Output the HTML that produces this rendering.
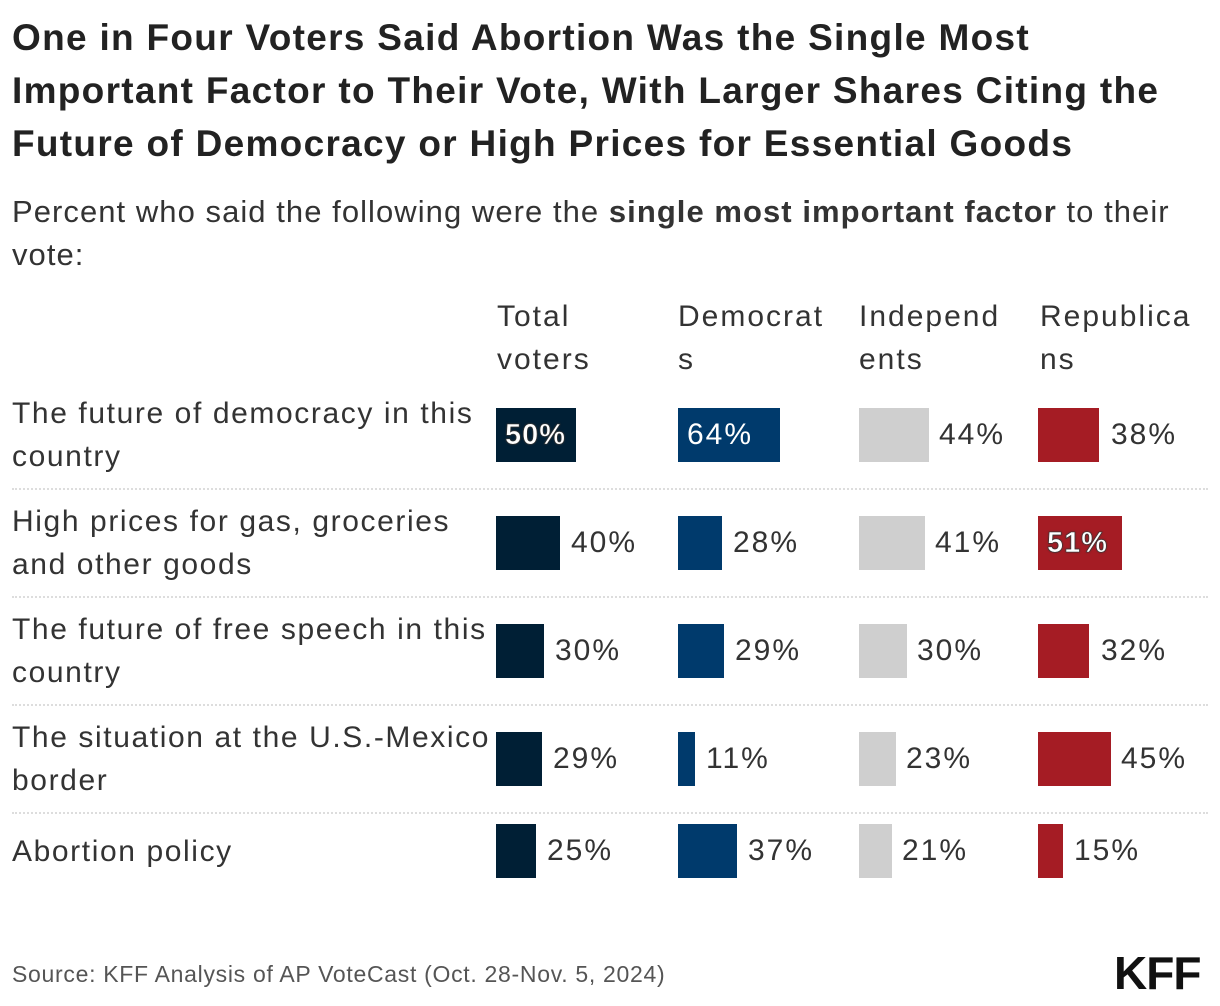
<!DOCTYPE html>
<html><head><meta charset="utf-8"><style>
body{margin:0;background:#fff;}
#c{position:relative;width:1220px;height:1006px;overflow:hidden;font-family:"Liberation Sans",sans-serif;color:#333;}
.t{position:absolute;left:12px;font-weight:bold;font-size:37px;letter-spacing:1.3px;color:#222;white-space:nowrap;line-height:53px;}
.s{position:absolute;left:12px;font-size:31px;letter-spacing:1.05px;color:#333;white-space:nowrap;line-height:43px;}
.h{position:absolute;font-size:30px;letter-spacing:2px;line-height:43px;color:#333;white-space:nowrap;}
.l{position:absolute;left:12px;font-size:30px;letter-spacing:1.6px;line-height:43px;color:#333;white-space:nowrap;}
.b{position:absolute;height:54px;}
.v{position:absolute;font-size:30px;letter-spacing:2px;line-height:54px;color:#333;white-space:nowrap;}
.vi{position:absolute;font-size:29px;letter-spacing:1px;line-height:54px;color:#fff;font-weight:bold;white-space:nowrap;-webkit-text-stroke:0.6px #333;text-shadow:0 0 2px #333;}
.sep{position:absolute;left:12px;width:1196px;border-top:2px dotted #ddd;height:0;}
</style></head><body><div id="c">
<div class="t" style="top:11px">One in Four Voters Said Abortion Was the Single Most</div>
<div class="t" style="top:64px">Important Factor to Their Vote, With Larger Shares Citing the</div>
<div class="t" style="top:117px">Future of Democracy or High Prices for Essential Goods</div>
<div class="s" style="top:190px">Percent who said the following were the <b>single most important factor</b> to their</div>
<div class="s" style="top:233px">vote:</div>
<div class="h" style="left:497px;top:295px">Total<br>voters</div>
<div class="h" style="left:678px;top:295px">Democrat<br>s</div>
<div class="h" style="left:859px;top:295px">Independ<br>ents</div>
<div class="h" style="left:1040px;top:295px">Republica<br>ns</div>

<div class="l" style="top:392px">The future of democracy in this<br>country</div>
<div class="l" style="top:500px">High prices for gas, groceries<br>and other goods</div>
<div class="l" style="top:608px">The future of free speech in this<br>country</div>
<div class="l" style="top:716px">The situation at the U.S.-Mexico<br>border</div>
<div class="l" style="top:830px">Abortion policy</div>

<div class="sep" style="top:488px"></div>
<div class="sep" style="top:596px"></div>
<div class="sep" style="top:704px"></div>
<div class="sep" style="top:812px"></div>

<!-- row1 -->
<div class="b" style="left:496px;top:408px;width:80px;background:#001f35"></div><div class="vi" style="left:505px;top:408px">50%</div>
<div class="b" style="left:678px;top:408px;width:102px;background:#003a6c"></div><div class="vi" style="left:687px;top:408px;-webkit-text-stroke:0;text-shadow:none;font-weight:normal;letter-spacing:2px;font-size:30px">64%</div>
<div class="b" style="left:859px;top:408px;width:70px;background:#cfcfcf"></div><div class="v" style="left:939px;top:408px">44%</div>
<div class="b" style="left:1038px;top:408px;width:61px;background:#a51c24"></div><div class="v" style="left:1111px;top:408px">38%</div>
<!-- row2 -->
<div class="b" style="left:496px;top:516px;width:64px;background:#001f35"></div><div class="v" style="left:571px;top:516px">40%</div>
<div class="b" style="left:678px;top:516px;width:44px;background:#003a6c"></div><div class="v" style="left:733px;top:516px">28%</div>
<div class="b" style="left:859px;top:516px;width:66px;background:#cfcfcf"></div><div class="v" style="left:935px;top:516px">41%</div>
<div class="b" style="left:1038px;top:516px;width:84px;background:#a51c24"></div><div class="vi" style="left:1047px;top:516px">51%</div>
<!-- row3 -->
<div class="b" style="left:496px;top:624px;width:48px;background:#001f35"></div><div class="v" style="left:555px;top:624px">30%</div>
<div class="b" style="left:678px;top:624px;width:46px;background:#003a6c"></div><div class="v" style="left:735px;top:624px">29%</div>
<div class="b" style="left:859px;top:624px;width:48px;background:#cfcfcf"></div><div class="v" style="left:917px;top:624px">30%</div>
<div class="b" style="left:1038px;top:624px;width:51px;background:#a51c24"></div><div class="v" style="left:1101px;top:624px">32%</div>
<!-- row4 -->
<div class="b" style="left:496px;top:732px;width:46px;background:#001f35"></div><div class="v" style="left:553px;top:732px">29%</div>
<div class="b" style="left:678px;top:732px;width:17px;background:#003a6c"></div><div class="v" style="left:706px;top:732px">11%</div>
<div class="b" style="left:859px;top:732px;width:37px;background:#cfcfcf"></div><div class="v" style="left:906px;top:732px">23%</div>
<div class="b" style="left:1038px;top:732px;width:73px;background:#a51c24"></div><div class="v" style="left:1121px;top:732px">45%</div>
<!-- row5 -->
<div class="b" style="left:496px;top:824px;width:40px;background:#001f35"></div><div class="v" style="left:547px;top:824px">25%</div>
<div class="b" style="left:678px;top:824px;width:59px;background:#003a6c"></div><div class="v" style="left:748px;top:824px">37%</div>
<div class="b" style="left:859px;top:824px;width:33px;background:#cfcfcf"></div><div class="v" style="left:902px;top:824px">21%</div>
<div class="b" style="left:1038px;top:824px;width:25px;background:#a51c24"></div><div class="v" style="left:1074px;top:824px">15%</div>

<div style="position:absolute;left:12px;top:961px;font-size:23px;letter-spacing:0.7px;color:#555;white-space:nowrap">Source: KFF Analysis of AP VoteCast (Oct. 28-Nov. 5, 2024)</div>
<div style="position:absolute;left:1114px;top:946px;font-size:46px;font-weight:bold;color:#111;letter-spacing:-1px">KFF</div>
</div></body></html>
